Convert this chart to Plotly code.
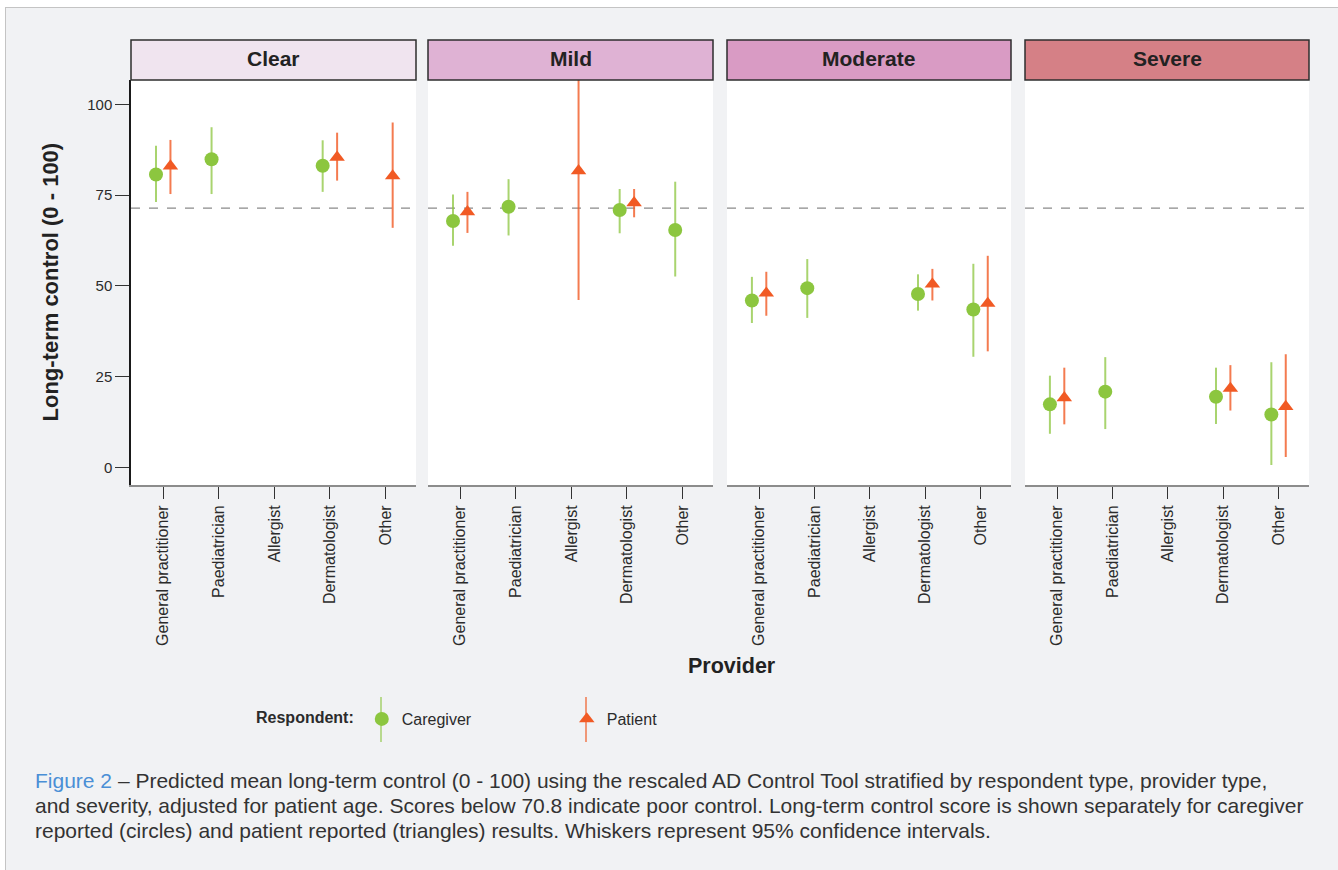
import plotly.graph_objects as go

# ---------------- data ----------------
severities = ["Clear", "Mild", "Moderate", "Severe"]
providers = ["General practitioner", "Paediatrician", "Allergist", "Dermatologist", "Other"]
header_colors = ["#f0e4ef", "#dfb2d4", "#d99bc4", "#d58086"]
threshold = 71.4

# rows = severity, columns = provider (None = not reported)
caregiver_mean = [
    [80.7, 84.9, None, 83.1, None],
    [67.9, 71.8, None, 70.9, 65.4],
    [46.0, 49.4, None, 47.8, 43.5],
    [17.4, 20.9, None, 19.5, 14.6],
]
caregiver_lo = [
    [73.1, 75.3, None, 75.9, None],
    [61.1, 63.9, None, 64.5, 52.6],
    [39.8, 41.2, None, 43.2, 30.5],
    [9.3, 10.6, None, 12.0, 0.7],
]
caregiver_hi = [
    [88.6, 93.7, None, 90.1, None],
    [75.2, 79.4, None, 76.7, 78.7],
    [52.5, 57.4, None, 53.2, 56.1],
    [25.3, 30.4, None, 27.5, 29.0],
]
patient_mean = [
    [83.0, None, None, 85.4, 80.3],
    [70.4, None, 81.7, 72.9, None],
    [48.0, None, None, 50.5, 45.2],
    [19.2, None, None, 21.8, 16.8],
]
patient_lo = [
    [75.3, None, None, 79.0, 66.0],
    [64.6, None, 46.1, 68.9, None],
    [41.8, None, None, 46.0, 32.0],
    [11.9, None, None, 15.7, 2.9],
]
patient_hi = [
    [90.2, None, None, 92.2, 95.0],
    [75.9, None, 117.0, 76.7, None],
    [53.9, None, None, 54.7, 58.3],
    [27.5, None, None, 28.2, 31.2],
]

# ---------------- layout geometry ----------------
W, H = 1338, 870
FONT = "Liberation Sans, Arial, Helvetica, sans-serif"
panel_px = [(131, 416), (428, 713), (727, 1011), (1025, 1309)]
plot_top, plot_bot = 80, 485
head_top = 40
px = lambda x: x / W
py = lambda y: 1 - y / H

GREEN = "#8cc63f"
ORANGE = "#f15a24"
GREEN_BAR = "rgba(140,198,63,0.75)"
ORANGE_BAR = "rgba(241,90,36,0.8)"
DODGE = 0.13

fig = go.Figure()

def add_series(i, means, los, his, name, color, barcolor, symbol, size, offset):
    xs, ys, up, dn = [], [], [], []
    for j, (m, lo, hi) in enumerate(zip(means[i], los[i], his[i])):
        if m is None:
            continue
        xs.append(j + offset)
        ys.append(m)
        up.append(hi - m)
        dn.append(m - lo)
    sfx = "" if i == 0 else str(i + 1)
    fig.add_trace(go.Scatter(
        x=xs, y=ys, mode="markers", name=name, legendgroup=name,
        showlegend=(i == 0),
        marker=dict(color=color, symbol=symbol, size=size, line=dict(width=0)),
        error_y=dict(type="data", symmetric=False, array=up, arrayminus=dn,
                     color=barcolor, thickness=2, width=0),
        xaxis="x" + sfx, yaxis="y" + sfx,
    ))

for i in range(4):
    add_series(i, caregiver_mean, caregiver_lo, caregiver_hi, "Caregiver",
               GREEN, GREEN_BAR, "circle", 14, -DODGE)
    add_series(i, patient_mean, patient_lo, patient_hi, "Patient",
               ORANGE, ORANGE_BAR, "triangle-up", 13.5, DODGE)

layout = dict(
    width=W, height=H,
    margin=dict(l=0, r=0, t=0, b=0),
    paper_bgcolor="#f1f2f4",
    plot_bgcolor="white",
    font=dict(family=FONT, color="#2b2b2b"),
    showlegend=True,
    legend=dict(
        orientation="h", x=px(254), y=py(719), xanchor="left", yanchor="middle",
        title=dict(text="<b>Respondent:</b>", side="left", font=dict(size=16, color="#2b2b2b")),
        font=dict(size=16, color="#2b2b2b"),
        bgcolor="rgba(0,0,0,0)", entrywidth=160, entrywidthmode="pixels",
        itemclick=False, itemdoubleclick=False,
    ),
)

shapes = []
annotations = []
for i, (x0, x1) in enumerate(panel_px):
    sfx = "" if i == 0 else str(i + 1)
    layout["xaxis" + sfx] = dict(
        domain=[px(x0), px(x1)], range=[-0.58, 4.55],
        tickvals=list(range(len(providers))), ticktext=providers,
        tickangle=-90, ticks="outside", ticklen=12, tickwidth=1.3, tickcolor="#333",
        showline=True, linecolor="#8c8c8c", linewidth=2,
        showgrid=False, zeroline=False, fixedrange=True,
        tickfont=dict(size=16, color="#2b2b2b"),
        anchor="y" + sfx,
    )
    ycfg = dict(
        domain=[py(plot_bot), py(plot_top)], range=[-4.8, 106.7],
        showgrid=False, zeroline=False, fixedrange=True,
        anchor="x" + sfx,
    )
    if i == 0:
        ycfg.update(tickvals=[0, 25, 50, 75, 100], ticks="outside", ticklen=14,
                    tickwidth=1.3, tickcolor="#333", showline=True,
                    linecolor="#1a1a1a", linewidth=1.5,
                    tickfont=dict(size=15, color="#2b2b2b"))
    else:
        ycfg.update(showticklabels=False, ticks="", showline=False, matches="y")
    layout["yaxis" + sfx] = ycfg

    # strip header
    shapes.append(dict(type="rect", xref="paper", yref="paper",
                       x0=px(x0), x1=px(x1), y0=py(plot_top), y1=py(head_top),
                       fillcolor=header_colors[i], line=dict(color="#2e2e2e", width=1.5)))
    annotations.append(dict(text="<b>%s</b>" % severities[i], xref="paper", yref="paper",
                            x=px((x0 + x1) / 2), y=py((plot_top + head_top) / 2 - 1),
                            showarrow=False, font=dict(size=21, color="#222"),
                            xanchor="center", yanchor="middle"))
    # threshold line
    shapes.append(dict(type="line", xref="x%s domain" % sfx, yref="y" + sfx,
                       x0=0, x1=1, y0=threshold, y1=threshold, layer="below",
                       line=dict(color="#8a8a8a", width=1.3, dash="dash")))

# outer border of the figure box
shapes += [
    dict(type="rect", xref="paper", yref="paper", x0=0, x1=px(5), y0=0, y1=1,
         fillcolor="white", line=dict(width=0)),
    dict(type="rect", xref="paper", yref="paper", x0=0, x1=1, y0=py(7), y1=1,
         fillcolor="white", line=dict(width=0)),
    dict(type="line", xref="paper", yref="paper", x0=px(5.5), x1=px(5.5), y0=0, y1=py(7),
         line=dict(color="#c4c4c4", width=1)),
    dict(type="line", xref="paper", yref="paper", x0=px(5.5), x1=1, y0=py(7.5), y1=py(7.5),
         line=dict(color="#c4c4c4", width=1)),
]
# legend whiskers (through the legend symbols)
for xl, col in [(381, GREEN_BAR), (586, ORANGE_BAR)]:
    shapes.append(dict(type="line", xref="paper", yref="paper", x0=px(xl), x1=px(xl),
                       y0=py(742), y1=py(697), line=dict(color=col, width=1.5)))

# axis titles
annotations.append(dict(text="<b>Long-term control (0 - 100)</b>", xref="paper", yref="paper",
                        x=px(50), y=py((plot_top + plot_bot) / 2), textangle=-90,
                        showarrow=False, font=dict(size=22, color="#222"),
                        xanchor="center", yanchor="middle"))
annotations.append(dict(text="<b>Provider</b>", xref="paper", yref="paper",
                        x=px(732), y=py(666), showarrow=False,
                        font=dict(size=21.5, color="#222"), xanchor="center", yanchor="middle"))

# caption
caption_lines = [
    "<span style='color:#4a8fd6'>Figure 2</span> \u2013 Predicted mean long-term control (0 - 100) using the rescaled AD Control Tool stratified by respondent type, provider type,",
    "and severity, adjusted for patient age. Scores below 70.8 indicate poor control. Long-term control score is shown separately for caregiver",
    "reported (circles) and patient reported (triangles) results. Whiskers represent 95% confidence intervals.",
]
for k, (line, yc) in enumerate(zip(caption_lines, [780, 805, 830])):
    annotations.append(dict(text=line, xref="paper", yref="paper", x=px(33), y=py(yc),
                            showarrow=False, xanchor="left", yanchor="middle",
                            font=dict(size=21, color="#333333")))

layout["shapes"] = shapes
layout["annotations"] = annotations
fig.update_layout(**layout)

fig.write_html("out.html", config={"displayModeBar": False},
               post_script="document.body.style.margin='0';")
